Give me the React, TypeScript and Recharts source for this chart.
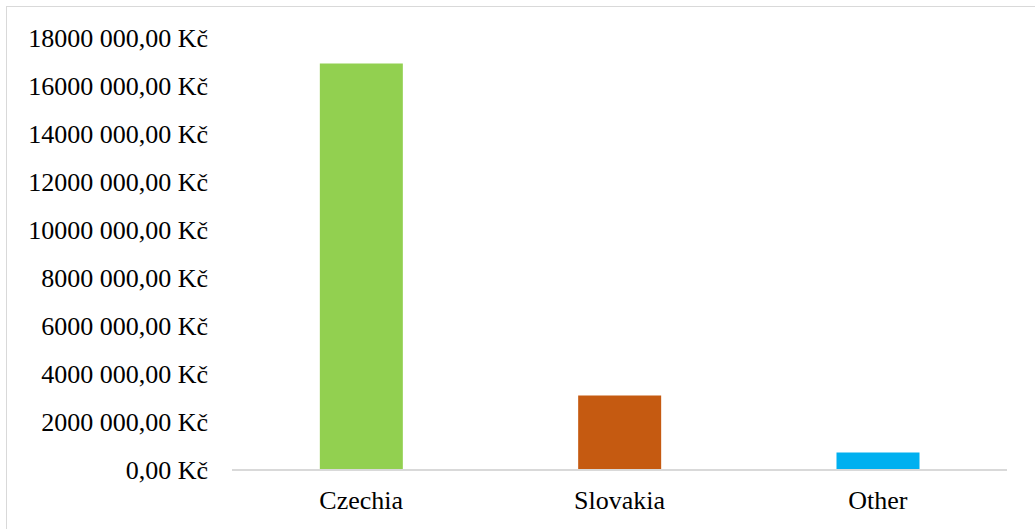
import { BarChart, Bar, XAxis, YAxis, Cell } from "recharts";

const countries = ["Czechia", "Slovakia", "Other"];
const revenue = [16940000, 3100000, 730000];
const barColors = ["#92D050", "#C55A11", "#00B0F0"];

const yTicks = [0, 2000000, 4000000, 6000000, 8000000, 10000000, 12000000, 14000000, 16000000, 18000000];
const yTickLabels = [
  "0,00 Kč",
  "2000 000,00 Kč",
  "4000 000,00 Kč",
  "6000 000,00 Kč",
  "8000 000,00 Kč",
  "10000 000,00 Kč",
  "12000 000,00 Kč",
  "14000 000,00 Kč",
  "16000 000,00 Kč",
  "18000 000,00 Kč",
];

const chartData = countries.map((name, i) => ({ name, value: revenue[i] }));

const font = "Liberation Serif";

export default function App() {
  return (
    <div
      style={{
        position: "absolute",
        left: 0,
        top: 0,
        width: 1035,
        height: 529,
        overflow: "hidden",
        background: "#fff",
        fontFamily: "'Liberation Serif', serif",
      }}
    >
      <div
        style={{
          position: "absolute",
          left: 6,
          top: 6,
          width: 1060,
          height: 560,
          border: "1px solid #d9d9d9",
        }}
      />
      <div style={{ position: "absolute", left: 0, top: 0 }}>
        <BarChart
          width={1035}
          height={529}
          data={chartData}
          margin={{ top: 38, right: 28, left: 0, bottom: 0 }}
          barCategoryGap="34%"
          style={{ fontFamily: "'Liberation Serif', serif" }}
        >
          <XAxis
            dataKey="name"
            height={59}
            axisLine={{ stroke: "#d9d9d9", strokeWidth: 2 }}
            tickLine={false}
            tickSize={0}
            tickMargin={21}
            tick={{ fill: "#000", fontSize: 26, fontFamily: font }}
          />
          <YAxis
            width={232}
            domain={[0, 18000000]}
            ticks={yTicks}
            interval={0}
            axisLine={false}
            tickLine={false}
            tickSize={0}
            tickMargin={24}
            tickFormatter={(v: number) => yTickLabels[yTicks.indexOf(v)] ?? String(v)}
            tick={{ fill: "#000", fontSize: 26, fontFamily: font }}
          />
          <Bar dataKey="value" isAnimationActive={false}>
            {chartData.map((d, i) => (
              <Cell key={d.name} fill={barColors[i]} />
            ))}
          </Bar>
        </BarChart>
      </div>
    </div>
  );
}
